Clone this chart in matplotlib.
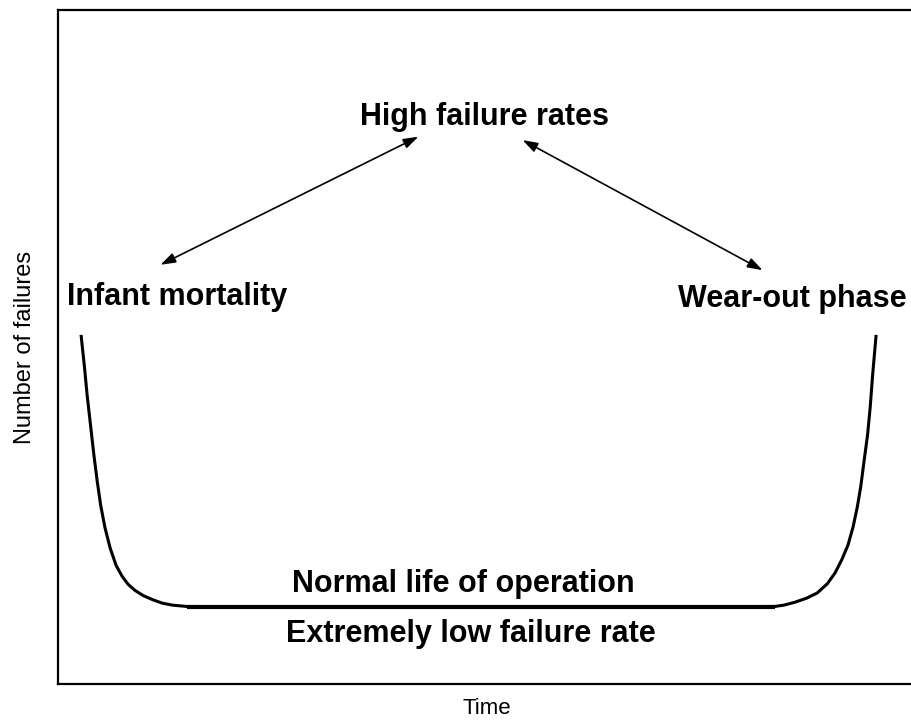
import matplotlib
matplotlib.use('Agg')
import matplotlib.pyplot as plt

plt.rcParams['font.family'] = ['Liberation Sans', 'DejaVu Sans']

# bathtub curve (time 0-100, failures 0-100)
time = [2.7, 3.1, 3.4, 3.8, 4.2, 4.6, 5.0, 5.5, 6.1, 6.8, 7.5, 8.2, 9.0,
        10.0, 11.1, 12.2, 13.4, 15.1,
        50.0,
        83.9, 85.0, 86.2, 87.6, 88.9, 90.1, 91.0, 91.8, 92.5, 93.1, 93.6,
        94.0, 94.4, 94.8, 95.1, 95.4, 95.8]
failures = [51.8, 47.0, 43.0, 38.5, 34.0, 30.0, 26.5, 23.2, 20.2, 17.6,
            16.0, 14.8, 13.9, 13.1, 12.5, 12.0, 11.7, 11.5,
            11.4,
            11.5, 11.7, 12.1, 12.7, 13.5, 14.9, 16.5, 18.5, 20.6, 23.3, 26.3,
            29.3, 33.2, 37.0, 41.0, 46.0, 51.8]

# flat "normal life" stretch
flat_time = [15.1, 83.9]
flat_failures = [11.4, 11.4]

fig = plt.figure(figsize=(9.12, 7.22), dpi=100)
ax = fig.add_axes([58 / 912, 38 / 722, 1 - 58 / 912, 674 / 722])

ax.plot(time, failures, color='black', lw=2.2, solid_capstyle='butt',
        solid_joinstyle='round')
ax.plot(flat_time, flat_failures, color='black', lw=3.0, solid_capstyle='butt')

ax.set_xlim(0, 100)
ax.set_ylim(0, 100)
ax.set_xticks([])
ax.set_yticks([])
for side in ['left', 'top', 'bottom']:
    ax.spines[side].set_linewidth(1.6)
ax.spines['right'].set_visible(False)

bold = dict(fontsize=22, fontweight='bold', ha='center', va='baseline')
ax.text(49.9, 82.9, 'High failure rates', **bold)
ax.text(13.9, 56.2, 'Infant mortality', **bold)
ax.text(86.0, 56.0, 'Wear-out phase', **bold)
ax.text(47.5, 13.7, 'Normal life of operation', **bold)
ax.text(48.4, 6.3, 'Extremely low failure rate', **bold)

arrow = dict(arrowstyle='<|-|>,head_length=0.9,head_width=0.3',
             color='black', lw=1.2, shrinkA=0, shrinkB=0)
ax.annotate('', xy=(12.0, 62.2), xytext=(42.2, 81.2), arrowprops=arrow)
ax.annotate('', xy=(82.5, 61.4), xytext=(54.4, 80.7), arrowprops=arrow)

ax.set_xlabel('Time', fontsize=16, va='top')
ax.xaxis.set_label_coords(0.502, -0.021)
ax.set_ylabel('Number of failures', fontsize=17, va='center')
ax.yaxis.set_label_coords(-0.0387, 0.5)

fig.savefig('out.png', dpi=100)
